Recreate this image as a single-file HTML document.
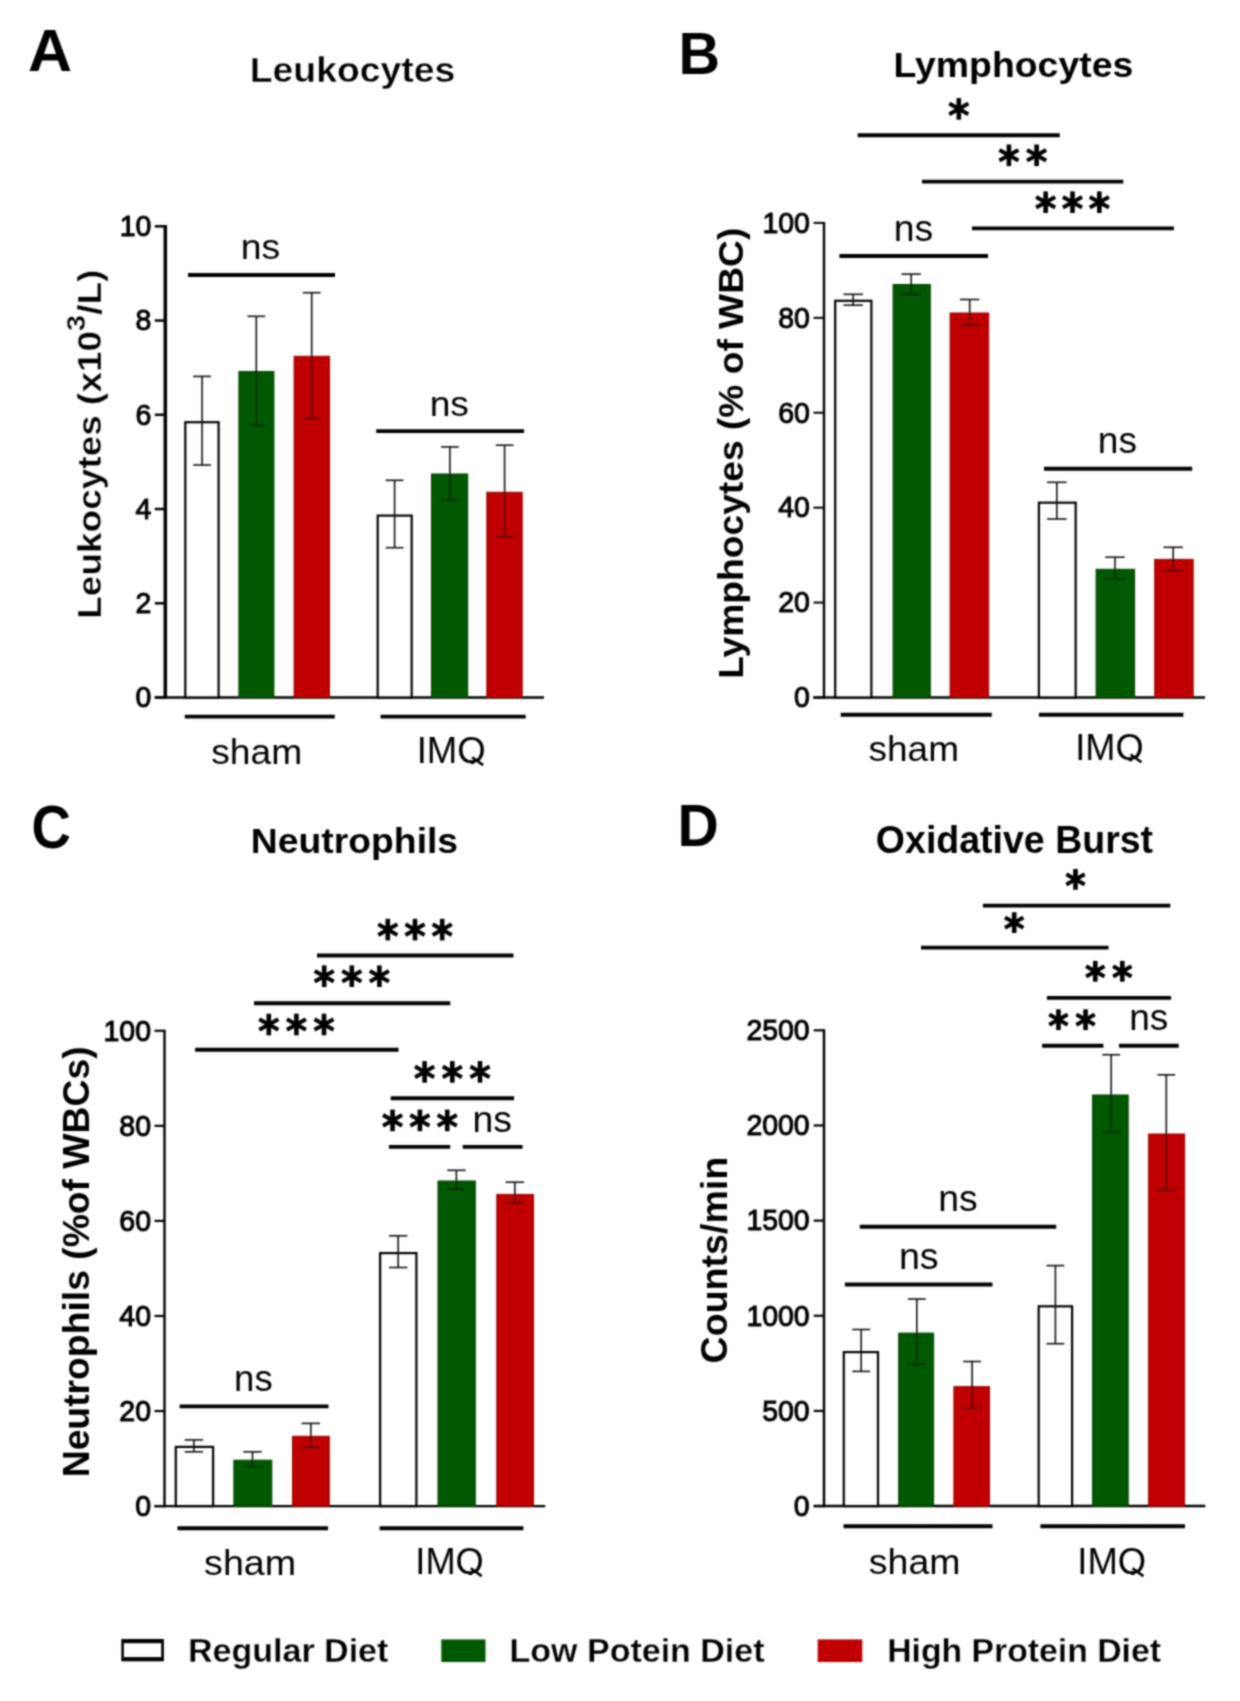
<!DOCTYPE html>
<html><head><meta charset="utf-8"><style>
html,body{margin:0;padding:0;background:#fff;}
svg{display:block;font-family:"Liberation Sans", sans-serif;}
</style></head><body>
<svg width="1240" height="1701" viewBox="0 0 1240 1701">
<defs><filter id="bl" color-interpolation-filters="sRGB" filterUnits="userSpaceOnUse" x="0" y="0" width="1240" height="1701"><feConvolveMatrix order="5" kernelMatrix="0.00048 0.00501 0.01095 0.00501 0.00048 0.00501 0.05222 0.11405 0.05222 0.00501 0.01095 0.11405 0.24912 0.11405 0.01095 0.00501 0.05222 0.11405 0.05222 0.00501 0.00048 0.00501 0.01095 0.00501 0.00048" divisor="1" edgeMode="duplicate"/></filter></defs>
<rect width="1240" height="1701" fill="#fff"/>
<g filter="url(#bl)">
<rect width="1240" height="1701" fill="#fff"/>
<g transform="matrix(1.0526 0 0 1.0075 -2.63 -0.73)"><text x="50.00" y="70.95" font-size="58" font-weight="700" text-anchor="middle">A</text></g>
<g transform="matrix(1.0101 0 0 0.9704 -4.05 -1.25)"><text x="353.00" y="85.60" font-size="37" font-weight="700" text-anchor="middle" stroke="#fff" stroke-width="0.4">Leukocytes</text></g>
<line x1="165.30" y1="225.05" x2="165.30" y2="698.85" stroke="#000" stroke-width="3.5"/>
<line x1="154.80" y1="697.50" x2="165.30" y2="697.50" stroke="#000" stroke-width="2.5"/>
<text transform="translate(151.29999999999998,707.30) scale(0.965,1)" font-size="29.5" text-anchor="end" stroke="#000" stroke-width="1.0">0</text>
<line x1="154.80" y1="603.26" x2="165.30" y2="603.26" stroke="#000" stroke-width="2.5"/>
<text transform="translate(151.29999999999998,613.06) scale(0.965,1)" font-size="29.5" text-anchor="end" stroke="#000" stroke-width="1.0">2</text>
<line x1="154.80" y1="509.02" x2="165.30" y2="509.02" stroke="#000" stroke-width="2.5"/>
<text transform="translate(151.29999999999998,518.82) scale(0.965,1)" font-size="29.5" text-anchor="end" stroke="#000" stroke-width="1.0">4</text>
<line x1="154.80" y1="414.78" x2="165.30" y2="414.78" stroke="#000" stroke-width="2.5"/>
<text transform="translate(151.29999999999998,424.58) scale(0.965,1)" font-size="29.5" text-anchor="end" stroke="#000" stroke-width="1.0">6</text>
<line x1="154.80" y1="320.54" x2="165.30" y2="320.54" stroke="#000" stroke-width="2.5"/>
<text transform="translate(151.29999999999998,330.34) scale(0.965,1)" font-size="29.5" text-anchor="end" stroke="#000" stroke-width="1.0">8</text>
<line x1="154.80" y1="226.30" x2="165.30" y2="226.30" stroke="#000" stroke-width="2.5"/>
<text transform="translate(151.29999999999998,236.10) scale(0.965,1)" font-size="29.5" text-anchor="end" stroke="#000" stroke-width="1.0">10</text>
<line x1="154.80" y1="697.50" x2="544.00" y2="697.50" stroke="#000" stroke-width="2.7"/>
<rect x="185.30" y="422.20" width="33.30" height="275.30" fill="#fff" stroke="#000" stroke-width="2.2"/>
<rect x="238.90" y="371.50" width="35.00" height="326.00" fill="#005800" stroke="#004200" stroke-width="1"/>
<rect x="294.10" y="356.30" width="35.40" height="341.20" fill="#c00000" stroke="#980000" stroke-width="1"/>
<rect x="377.70" y="515.60" width="34.00" height="181.90" fill="#fff" stroke="#000" stroke-width="2.2"/>
<rect x="431.50" y="474.00" width="36.20" height="223.50" fill="#005800" stroke="#004200" stroke-width="1"/>
<rect x="486.80" y="492.30" width="35.40" height="205.20" fill="#c00000" stroke="#980000" stroke-width="1"/>
<line x1="202.10" y1="376.40" x2="202.10" y2="465.00" stroke="#111" stroke-width="1.6"/>
<line x1="193.20" y1="376.40" x2="211.00" y2="376.40" stroke="#111" stroke-width="1.6"/>
<line x1="193.20" y1="465.00" x2="211.00" y2="465.00" stroke="#111" stroke-width="1.6"/>
<line x1="256.30" y1="316.30" x2="256.30" y2="371.00" stroke="#111" stroke-width="1.6"/>
<g opacity="0.5">
<line x1="256.30" y1="371.00" x2="256.30" y2="425.40" stroke="#000" stroke-width="1.6"/>
<line x1="247.40" y1="425.40" x2="265.20" y2="425.40" stroke="#000" stroke-width="1.6"/>
</g>
<line x1="247.40" y1="316.30" x2="265.20" y2="316.30" stroke="#111" stroke-width="1.6"/>
<line x1="311.70" y1="292.70" x2="311.70" y2="355.80" stroke="#111" stroke-width="1.6"/>
<g opacity="0.5">
<line x1="311.70" y1="355.80" x2="311.70" y2="418.30" stroke="#000" stroke-width="1.6"/>
<line x1="302.80" y1="418.30" x2="320.60" y2="418.30" stroke="#000" stroke-width="1.6"/>
</g>
<line x1="302.80" y1="292.70" x2="320.60" y2="292.70" stroke="#111" stroke-width="1.6"/>
<line x1="394.60" y1="480.30" x2="394.60" y2="547.70" stroke="#111" stroke-width="1.6"/>
<line x1="385.70" y1="480.30" x2="403.50" y2="480.30" stroke="#111" stroke-width="1.6"/>
<line x1="385.70" y1="547.70" x2="403.50" y2="547.70" stroke="#111" stroke-width="1.6"/>
<line x1="449.90" y1="446.90" x2="449.90" y2="473.50" stroke="#111" stroke-width="1.6"/>
<g opacity="0.5">
<line x1="449.90" y1="473.50" x2="449.90" y2="500.20" stroke="#000" stroke-width="1.6"/>
<line x1="441.00" y1="500.20" x2="458.80" y2="500.20" stroke="#000" stroke-width="1.6"/>
</g>
<line x1="441.00" y1="446.90" x2="458.80" y2="446.90" stroke="#111" stroke-width="1.6"/>
<line x1="504.60" y1="445.20" x2="504.60" y2="491.80" stroke="#111" stroke-width="1.6"/>
<g opacity="0.5">
<line x1="504.60" y1="491.80" x2="504.60" y2="536.60" stroke="#000" stroke-width="1.6"/>
<line x1="495.70" y1="536.60" x2="513.50" y2="536.60" stroke="#000" stroke-width="1.6"/>
</g>
<line x1="495.70" y1="445.20" x2="513.50" y2="445.20" stroke="#111" stroke-width="1.6"/>
<line x1="188.00" y1="275.00" x2="335.00" y2="275.00" stroke="#000" stroke-width="3.9"/>
<g transform="matrix(1.0382 0 0 0.9900 -10.23 -0.57)"><text x="260.75" y="262.50" font-size="36" font-weight="400" text-anchor="middle">ns</text></g>
<line x1="376.20" y1="431.10" x2="524.10" y2="431.10" stroke="#000" stroke-width="3.9"/>
<g transform="matrix(1.0324 0 0 0.9800 -15.44 5.86)"><text x="450.15" y="418.30" font-size="36" font-weight="400" text-anchor="middle">ns</text></g>
<line x1="184.80" y1="716.60" x2="334.80" y2="716.60" stroke="#000" stroke-width="3.9"/>
<line x1="380.60" y1="716.60" x2="525.70" y2="716.60" stroke="#000" stroke-width="3.9"/>
<g transform="matrix(1.0345 0 0 0.9704 -8.49 23.21)"><text x="256.35" y="763.10" font-size="36" font-weight="400" text-anchor="middle">sham</text></g>
<clipPath id="cl5" clipPathUnits="userSpaceOnUse"><rect x="410.6" y="722" width="83.09999999999997" height="42.00"/></clipPath><g clip-path="url(#cl5)"><g transform="matrix(1.0177 0 0 1.0038 -8.89 -2.83)"><text x="452.15" y="762.65" font-size="36" font-weight="400" text-anchor="middle">IMQ</text></g></g>
<line x1="472.20" y1="757.30" x2="483.10" y2="765.10" stroke="#000" stroke-width="2.6"/>
<g transform="matrix(0.9185 0 0 1.0278 8.95 -12.49)"><text transform="translate(99.85,444.35) rotate(-90)" font-size="36" font-weight="700" text-anchor="middle" stroke="#fff" stroke-width="0.4">Leukocytes (x10<tspan font-size="28" dy="-17">3</tspan><tspan dy="17">/L)</tspan></text></g>
<g transform="matrix(0.9914 0 0 1.0200 5.45 -1.06)"><text x="699.95" y="73.30" font-size="58" font-weight="700" text-anchor="middle">B</text></g>
<g transform="matrix(1.0116 0 0 0.9667 -12.31 -1.00)"><text x="1013.95" y="81.20" font-size="37" font-weight="700" text-anchor="middle">Lymphocytes</text></g>
<line x1="824.00" y1="221.90" x2="824.00" y2="698.70" stroke="#000" stroke-width="2.4"/>
<line x1="813.50" y1="697.50" x2="824.00" y2="697.50" stroke="#000" stroke-width="2"/>
<text transform="translate(809.9000000000001,707.30) scale(0.965,1)" font-size="29.5" text-anchor="end" stroke="#000" stroke-width="1.0">0</text>
<line x1="813.50" y1="602.58" x2="824.00" y2="602.58" stroke="#000" stroke-width="2"/>
<text transform="translate(809.9000000000001,612.38) scale(0.965,1)" font-size="29.5" text-anchor="end" stroke="#000" stroke-width="1.0">20</text>
<line x1="813.50" y1="507.66" x2="824.00" y2="507.66" stroke="#000" stroke-width="2"/>
<text transform="translate(809.9000000000001,517.46) scale(0.965,1)" font-size="29.5" text-anchor="end" stroke="#000" stroke-width="1.0">40</text>
<line x1="813.50" y1="412.74" x2="824.00" y2="412.74" stroke="#000" stroke-width="2"/>
<text transform="translate(809.9000000000001,422.54) scale(0.965,1)" font-size="29.5" text-anchor="end" stroke="#000" stroke-width="1.0">60</text>
<line x1="813.50" y1="317.82" x2="824.00" y2="317.82" stroke="#000" stroke-width="2"/>
<text transform="translate(809.9000000000001,327.62) scale(0.965,1)" font-size="29.5" text-anchor="end" stroke="#000" stroke-width="1.0">80</text>
<line x1="813.50" y1="222.90" x2="824.00" y2="222.90" stroke="#000" stroke-width="2"/>
<text transform="translate(809.9000000000001,232.70) scale(0.965,1)" font-size="29.5" text-anchor="end" stroke="#000" stroke-width="1.0">100</text>
<line x1="813.50" y1="697.50" x2="1205.00" y2="697.50" stroke="#000" stroke-width="2.4"/>
<rect x="835.20" y="300.80" width="36.20" height="396.70" fill="#fff" stroke="#000" stroke-width="2.2"/>
<rect x="893.10" y="284.50" width="37.20" height="413.00" fill="#005800" stroke="#004200" stroke-width="1"/>
<rect x="950.10" y="313.00" width="38.60" height="384.50" fill="#c00000" stroke="#980000" stroke-width="1"/>
<rect x="1038.90" y="502.70" width="36.80" height="194.80" fill="#fff" stroke="#000" stroke-width="2.2"/>
<rect x="1096.10" y="569.30" width="38.50" height="128.20" fill="#005800" stroke="#004200" stroke-width="1"/>
<rect x="1154.70" y="559.40" width="38.50" height="138.10" fill="#c00000" stroke="#980000" stroke-width="1"/>
<line x1="853.20" y1="294.30" x2="853.20" y2="305.20" stroke="#111" stroke-width="1.6"/>
<line x1="843.45" y1="294.30" x2="862.95" y2="294.30" stroke="#111" stroke-width="1.6"/>
<line x1="843.45" y1="305.20" x2="862.95" y2="305.20" stroke="#111" stroke-width="1.6"/>
<line x1="911.20" y1="274.10" x2="911.20" y2="284.00" stroke="#111" stroke-width="1.6"/>
<g opacity="0.5">
<line x1="911.20" y1="284.00" x2="911.20" y2="294.30" stroke="#000" stroke-width="1.6"/>
<line x1="901.45" y1="294.30" x2="920.95" y2="294.30" stroke="#000" stroke-width="1.6"/>
</g>
<line x1="901.45" y1="274.10" x2="920.95" y2="274.10" stroke="#111" stroke-width="1.6"/>
<line x1="969.70" y1="299.50" x2="969.70" y2="312.50" stroke="#111" stroke-width="1.6"/>
<g opacity="0.5">
<line x1="969.70" y1="312.50" x2="969.70" y2="324.90" stroke="#000" stroke-width="1.6"/>
<line x1="959.95" y1="324.90" x2="979.45" y2="324.90" stroke="#000" stroke-width="1.6"/>
</g>
<line x1="959.95" y1="299.50" x2="979.45" y2="299.50" stroke="#111" stroke-width="1.6"/>
<line x1="1056.80" y1="482.30" x2="1056.80" y2="519.00" stroke="#111" stroke-width="1.6"/>
<line x1="1047.05" y1="482.30" x2="1066.55" y2="482.30" stroke="#111" stroke-width="1.6"/>
<line x1="1047.05" y1="519.00" x2="1066.55" y2="519.00" stroke="#111" stroke-width="1.6"/>
<line x1="1115.00" y1="557.20" x2="1115.00" y2="568.80" stroke="#111" stroke-width="1.6"/>
<g opacity="0.5">
<line x1="1115.00" y1="568.80" x2="1115.00" y2="579.10" stroke="#000" stroke-width="1.6"/>
<line x1="1105.25" y1="579.10" x2="1124.75" y2="579.10" stroke="#000" stroke-width="1.6"/>
</g>
<line x1="1105.25" y1="557.20" x2="1124.75" y2="557.20" stroke="#111" stroke-width="1.6"/>
<line x1="1173.20" y1="547.30" x2="1173.20" y2="558.90" stroke="#111" stroke-width="1.6"/>
<g opacity="0.5">
<line x1="1173.20" y1="558.90" x2="1173.20" y2="570.60" stroke="#000" stroke-width="1.6"/>
<line x1="1163.45" y1="570.60" x2="1182.95" y2="570.60" stroke="#000" stroke-width="1.6"/>
</g>
<line x1="1163.45" y1="547.30" x2="1182.95" y2="547.30" stroke="#111" stroke-width="1.6"/>
<line x1="857.70" y1="135.20" x2="1059.80" y2="135.20" stroke="#000" stroke-width="3.9"/>
<path d="M958.80 98.10L958.80 119.70" stroke="#000" stroke-width="4.6" fill="none"/>
<path d="M949.27 103.62L968.33 114.18M949.27 114.18L968.33 103.62" stroke="#000" stroke-width="3.9999999999999996" fill="none"/>
<circle cx="958.80" cy="108.90" r="3.30" fill="#000"/>
<line x1="922.00" y1="181.60" x2="1123.30" y2="181.60" stroke="#000" stroke-width="3.9"/>
<path d="M1008.90 144.50L1008.90 166.10" stroke="#000" stroke-width="4.6" fill="none"/>
<path d="M999.37 150.02L1018.43 160.58M999.37 160.58L1018.43 150.02" stroke="#000" stroke-width="3.9999999999999996" fill="none"/>
<circle cx="1008.90" cy="155.30" r="3.30" fill="#000"/>
<path d="M1036.60 144.50L1036.60 166.10" stroke="#000" stroke-width="4.6" fill="none"/>
<path d="M1027.07 150.02L1046.13 160.58M1027.07 160.58L1046.13 150.02" stroke="#000" stroke-width="3.9999999999999996" fill="none"/>
<circle cx="1036.60" cy="155.30" r="3.30" fill="#000"/>
<line x1="972.00" y1="228.40" x2="1173.90" y2="228.40" stroke="#000" stroke-width="3.9"/>
<path d="M1045.65 191.40L1045.65 213.00" stroke="#000" stroke-width="4.6" fill="none"/>
<path d="M1036.12 196.92L1055.18 207.48M1036.12 207.48L1055.18 196.92" stroke="#000" stroke-width="3.9999999999999996" fill="none"/>
<circle cx="1045.65" cy="202.20" r="3.30" fill="#000"/>
<path d="M1072.50 191.40L1072.50 213.00" stroke="#000" stroke-width="4.6" fill="none"/>
<path d="M1062.97 196.92L1082.03 207.48M1062.97 207.48L1082.03 196.92" stroke="#000" stroke-width="3.9999999999999996" fill="none"/>
<circle cx="1072.50" cy="202.20" r="3.30" fill="#000"/>
<path d="M1099.35 191.40L1099.35 213.00" stroke="#000" stroke-width="4.6" fill="none"/>
<path d="M1089.82 196.92L1108.88 207.48M1089.82 207.48L1108.88 196.92" stroke="#000" stroke-width="3.9999999999999996" fill="none"/>
<circle cx="1099.35" cy="202.20" r="3.30" fill="#000"/>
<line x1="839.40" y1="256.00" x2="988.00" y2="256.00" stroke="#000" stroke-width="3.9"/>
<g transform="matrix(1.0382 0 0 1.0500 -35.20 -14.80)"><text x="913.75" y="243.50" font-size="36" font-weight="400" text-anchor="middle">ns</text></g>
<line x1="1044.00" y1="468.70" x2="1192.20" y2="468.70" stroke="#000" stroke-width="3.9"/>
<g transform="matrix(1.0294 0 0 1.0400 -33.18 -20.64)"><text x="1117.70" y="455.80" font-size="36" font-weight="400" text-anchor="middle">ns</text></g>
<line x1="840.70" y1="714.80" x2="991.80" y2="714.80" stroke="#000" stroke-width="3.9"/>
<line x1="1038.90" y1="714.80" x2="1183.40" y2="714.80" stroke="#000" stroke-width="3.9"/>
<g transform="matrix(1.0274 0 0 0.9926 -24.65 6.63)"><text x="913.35" y="760.20" font-size="36" font-weight="400" text-anchor="middle">sham</text></g>
<clipPath id="cl12" clipPathUnits="userSpaceOnUse"><rect x="1068.8" y="719.2" width="83.29999999999995" height="42.00"/></clipPath><g clip-path="url(#cl12)"><g transform="matrix(1.0048 0 0 1.0038 -6.34 -2.62)"><text x="1110.45" y="759.85" font-size="36" font-weight="400" text-anchor="middle">IMQ</text></g></g>
<line x1="1130.60" y1="754.50" x2="1141.50" y2="762.30" stroke="#000" stroke-width="2.6"/>
<g transform="matrix(0.9259 0 0 1.0052 50.91 -1.99)"><text transform="translate(747.95,452.85) rotate(-90)" font-size="37" font-weight="700" text-anchor="middle">Lymphocytes (% of WBC)</text></g>
<g transform="matrix(0.9405 0 0 1.0400 2.86 -32.98)"><text x="51.30" y="847.40" font-size="58" font-weight="700" text-anchor="middle">C</text></g>
<g transform="matrix(1.0084 0 0 0.9704 -3.24 21.86)"><text x="354.75" y="856.20" font-size="37" font-weight="700" text-anchor="middle">Neutrophils</text></g>
<line x1="164.50" y1="1029.70" x2="164.50" y2="1507.30" stroke="#000" stroke-width="2.4"/>
<line x1="154.50" y1="1506.10" x2="164.50" y2="1506.10" stroke="#000" stroke-width="2.2"/>
<text transform="translate(151.0,1515.90) scale(0.965,1)" font-size="29.5" text-anchor="end" stroke="#000" stroke-width="1.05">0</text>
<line x1="154.50" y1="1411.04" x2="164.50" y2="1411.04" stroke="#000" stroke-width="2.2"/>
<text transform="translate(151.0,1420.84) scale(0.965,1)" font-size="29.5" text-anchor="end" stroke="#000" stroke-width="1.05">20</text>
<line x1="154.50" y1="1315.98" x2="164.50" y2="1315.98" stroke="#000" stroke-width="2.2"/>
<text transform="translate(151.0,1325.78) scale(0.965,1)" font-size="29.5" text-anchor="end" stroke="#000" stroke-width="1.05">40</text>
<line x1="154.50" y1="1220.92" x2="164.50" y2="1220.92" stroke="#000" stroke-width="2.2"/>
<text transform="translate(151.0,1230.72) scale(0.965,1)" font-size="29.5" text-anchor="end" stroke="#000" stroke-width="1.05">60</text>
<line x1="154.50" y1="1125.86" x2="164.50" y2="1125.86" stroke="#000" stroke-width="2.2"/>
<text transform="translate(151.0,1135.66) scale(0.965,1)" font-size="29.5" text-anchor="end" stroke="#000" stroke-width="1.05">80</text>
<line x1="154.50" y1="1030.80" x2="164.50" y2="1030.80" stroke="#000" stroke-width="2.2"/>
<text transform="translate(151.0,1040.60) scale(0.965,1)" font-size="29.5" text-anchor="end" stroke="#000" stroke-width="1.05">100</text>
<line x1="154.50" y1="1506.10" x2="545.20" y2="1506.10" stroke="#000" stroke-width="2.4"/>
<rect x="175.80" y="1446.90" width="37.30" height="59.20" fill="#fff" stroke="#000" stroke-width="2.2"/>
<rect x="233.90" y="1460.20" width="37.90" height="45.90" fill="#005800" stroke="#004200" stroke-width="1"/>
<rect x="292.50" y="1436.30" width="36.80" height="69.80" fill="#c00000" stroke="#980000" stroke-width="1"/>
<rect x="380.10" y="1253.10" width="36.30" height="253.00" fill="#fff" stroke="#000" stroke-width="2.2"/>
<rect x="438.00" y="1181.00" width="37.30" height="325.10" fill="#005800" stroke="#004200" stroke-width="1"/>
<rect x="496.80" y="1194.40" width="36.70" height="311.70" fill="#c00000" stroke="#980000" stroke-width="1"/>
<line x1="193.90" y1="1439.90" x2="193.90" y2="1451.80" stroke="#111" stroke-width="1.6"/>
<line x1="184.70" y1="1439.90" x2="203.10" y2="1439.90" stroke="#111" stroke-width="1.6"/>
<line x1="184.70" y1="1451.80" x2="203.10" y2="1451.80" stroke="#111" stroke-width="1.6"/>
<line x1="252.50" y1="1451.80" x2="252.50" y2="1459.70" stroke="#111" stroke-width="1.6"/>
<g opacity="0.5">
<line x1="252.50" y1="1459.70" x2="252.50" y2="1466.70" stroke="#000" stroke-width="1.6"/>
<line x1="243.30" y1="1466.70" x2="261.70" y2="1466.70" stroke="#000" stroke-width="1.6"/>
</g>
<line x1="243.30" y1="1451.80" x2="261.70" y2="1451.80" stroke="#111" stroke-width="1.6"/>
<line x1="310.80" y1="1423.40" x2="310.80" y2="1435.80" stroke="#111" stroke-width="1.6"/>
<g opacity="0.5">
<line x1="310.80" y1="1435.80" x2="310.80" y2="1447.40" stroke="#000" stroke-width="1.6"/>
<line x1="301.60" y1="1447.40" x2="320.00" y2="1447.40" stroke="#000" stroke-width="1.6"/>
</g>
<line x1="301.60" y1="1423.40" x2="320.00" y2="1423.40" stroke="#111" stroke-width="1.6"/>
<line x1="398.20" y1="1235.80" x2="398.20" y2="1267.50" stroke="#111" stroke-width="1.6"/>
<line x1="389.00" y1="1235.80" x2="407.40" y2="1235.80" stroke="#111" stroke-width="1.6"/>
<line x1="389.00" y1="1267.50" x2="407.40" y2="1267.50" stroke="#111" stroke-width="1.6"/>
<line x1="456.40" y1="1170.30" x2="456.40" y2="1180.50" stroke="#111" stroke-width="1.6"/>
<g opacity="0.5">
<line x1="456.40" y1="1180.50" x2="456.40" y2="1189.20" stroke="#000" stroke-width="1.6"/>
<line x1="447.20" y1="1189.20" x2="465.60" y2="1189.20" stroke="#000" stroke-width="1.6"/>
</g>
<line x1="447.20" y1="1170.30" x2="465.60" y2="1170.30" stroke="#111" stroke-width="1.6"/>
<line x1="514.80" y1="1182.20" x2="514.80" y2="1193.90" stroke="#111" stroke-width="1.6"/>
<g opacity="0.5">
<line x1="514.80" y1="1193.90" x2="514.80" y2="1203.00" stroke="#000" stroke-width="1.6"/>
<line x1="505.60" y1="1203.00" x2="524.00" y2="1203.00" stroke="#000" stroke-width="1.6"/>
</g>
<line x1="505.60" y1="1182.20" x2="524.00" y2="1182.20" stroke="#111" stroke-width="1.6"/>
<line x1="317.00" y1="955.50" x2="513.50" y2="955.50" stroke="#000" stroke-width="3.9"/>
<path d="M387.80 918.80L387.80 940.40" stroke="#000" stroke-width="4.6" fill="none"/>
<path d="M378.27 924.32L397.33 934.88M378.27 934.88L397.33 924.32" stroke="#000" stroke-width="3.9999999999999996" fill="none"/>
<circle cx="387.80" cy="929.60" r="3.30" fill="#000"/>
<path d="M415.00 918.80L415.00 940.40" stroke="#000" stroke-width="4.6" fill="none"/>
<path d="M405.47 924.32L424.53 934.88M405.47 934.88L424.53 924.32" stroke="#000" stroke-width="3.9999999999999996" fill="none"/>
<circle cx="415.00" cy="929.60" r="3.30" fill="#000"/>
<path d="M442.20 918.80L442.20 940.40" stroke="#000" stroke-width="4.6" fill="none"/>
<path d="M432.67 924.32L451.73 934.88M432.67 934.88L451.73 924.32" stroke="#000" stroke-width="3.9999999999999996" fill="none"/>
<circle cx="442.20" cy="929.60" r="3.30" fill="#000"/>
<line x1="254.00" y1="1003.20" x2="450.30" y2="1003.20" stroke="#000" stroke-width="3.9"/>
<path d="M324.20 965.40L324.20 987.00" stroke="#000" stroke-width="4.6" fill="none"/>
<path d="M314.67 970.92L333.73 981.48M314.67 981.48L333.73 970.92" stroke="#000" stroke-width="3.9999999999999996" fill="none"/>
<circle cx="324.20" cy="976.20" r="3.30" fill="#000"/>
<path d="M351.80 965.40L351.80 987.00" stroke="#000" stroke-width="4.6" fill="none"/>
<path d="M342.27 970.92L361.33 981.48M342.27 981.48L361.33 970.92" stroke="#000" stroke-width="3.9999999999999996" fill="none"/>
<circle cx="351.80" cy="976.20" r="3.30" fill="#000"/>
<path d="M379.40 965.40L379.40 987.00" stroke="#000" stroke-width="4.6" fill="none"/>
<path d="M369.87 970.92L388.93 981.48M369.87 981.48L388.93 970.92" stroke="#000" stroke-width="3.9999999999999996" fill="none"/>
<circle cx="379.40" cy="976.20" r="3.30" fill="#000"/>
<line x1="195.10" y1="1049.80" x2="398.50" y2="1049.80" stroke="#000" stroke-width="3.9"/>
<path d="M268.80 1013.70L268.80 1035.30" stroke="#000" stroke-width="4.6" fill="none"/>
<path d="M259.27 1019.22L278.33 1029.78M259.27 1029.78L278.33 1019.22" stroke="#000" stroke-width="3.9999999999999996" fill="none"/>
<circle cx="268.80" cy="1024.50" r="3.30" fill="#000"/>
<path d="M296.40 1013.70L296.40 1035.30" stroke="#000" stroke-width="4.6" fill="none"/>
<path d="M286.87 1019.22L305.93 1029.78M286.87 1029.78L305.93 1019.22" stroke="#000" stroke-width="3.9999999999999996" fill="none"/>
<circle cx="296.40" cy="1024.50" r="3.30" fill="#000"/>
<path d="M324.00 1013.70L324.00 1035.30" stroke="#000" stroke-width="4.6" fill="none"/>
<path d="M314.47 1019.22L333.53 1029.78M314.47 1029.78L333.53 1019.22" stroke="#000" stroke-width="3.9999999999999996" fill="none"/>
<circle cx="324.00" cy="1024.50" r="3.30" fill="#000"/>
<line x1="390.70" y1="1098.20" x2="514.10" y2="1098.20" stroke="#000" stroke-width="3.9"/>
<path d="M424.60 1061.10L424.60 1082.70" stroke="#000" stroke-width="4.6" fill="none"/>
<path d="M415.07 1066.62L434.13 1077.18M415.07 1077.18L434.13 1066.62" stroke="#000" stroke-width="3.9999999999999996" fill="none"/>
<circle cx="424.60" cy="1071.90" r="3.30" fill="#000"/>
<path d="M452.30 1061.10L452.30 1082.70" stroke="#000" stroke-width="4.6" fill="none"/>
<path d="M442.77 1066.62L461.83 1077.18M442.77 1077.18L461.83 1066.62" stroke="#000" stroke-width="3.9999999999999996" fill="none"/>
<circle cx="452.30" cy="1071.90" r="3.30" fill="#000"/>
<path d="M480.00 1061.10L480.00 1082.70" stroke="#000" stroke-width="4.6" fill="none"/>
<path d="M470.47 1066.62L489.53 1077.18M470.47 1077.18L489.53 1066.62" stroke="#000" stroke-width="3.9999999999999996" fill="none"/>
<circle cx="480.00" cy="1071.90" r="3.30" fill="#000"/>
<line x1="388.90" y1="1146.90" x2="450.20" y2="1146.90" stroke="#000" stroke-width="3.9"/>
<path d="M392.55 1109.60L392.55 1131.20" stroke="#000" stroke-width="4.6" fill="none"/>
<path d="M383.02 1115.12L402.08 1125.68M383.02 1125.68L402.08 1115.12" stroke="#000" stroke-width="3.9999999999999996" fill="none"/>
<circle cx="392.55" cy="1120.40" r="3.30" fill="#000"/>
<path d="M419.90 1109.60L419.90 1131.20" stroke="#000" stroke-width="4.6" fill="none"/>
<path d="M410.37 1115.12L429.43 1125.68M410.37 1125.68L429.43 1115.12" stroke="#000" stroke-width="3.9999999999999996" fill="none"/>
<circle cx="419.90" cy="1120.40" r="3.30" fill="#000"/>
<path d="M447.25 1109.60L447.25 1131.20" stroke="#000" stroke-width="4.6" fill="none"/>
<path d="M437.72 1115.12L456.78 1125.68M437.72 1125.68L456.78 1115.12" stroke="#000" stroke-width="3.9999999999999996" fill="none"/>
<circle cx="447.25" cy="1120.40" r="3.30" fill="#000"/>
<line x1="462.70" y1="1146.90" x2="522.60" y2="1146.90" stroke="#000" stroke-width="3.9"/>
<g transform="matrix(1.0382 0 0 1.0300 -19.74 -36.32)"><text x="493.15" y="1134.00" font-size="36" font-weight="400" text-anchor="middle">ns</text></g>
<line x1="179.60" y1="1406.40" x2="328.50" y2="1406.40" stroke="#000" stroke-width="3.9"/>
<g transform="matrix(1.0143 0 0 1.0200 -4.19 -30.26)"><text x="253.95" y="1393.00" font-size="36" font-weight="400" text-anchor="middle">ns</text></g>
<line x1="177.50" y1="1528.30" x2="328.00" y2="1528.30" stroke="#000" stroke-width="3.9"/>
<line x1="379.60" y1="1528.30" x2="523.40" y2="1528.30" stroke="#000" stroke-width="3.9"/>
<g transform="matrix(1.0464 0 0 0.9778 -11.01 35.78)"><text x="249.55" y="1574.20" font-size="36" font-weight="400" text-anchor="middle">sham</text></g>
<clipPath id="cl19" clipPathUnits="userSpaceOnUse"><rect x="408.8" y="1533" width="83.5" height="42.00"/></clipPath><g clip-path="url(#cl19)"><g transform="matrix(1.0079 0 0 1.0038 -4.53 -5.95)"><text x="450.55" y="1573.65" font-size="36" font-weight="400" text-anchor="middle">IMQ</text></g></g>
<line x1="470.80" y1="1568.30" x2="481.70" y2="1576.10" stroke="#000" stroke-width="2.6"/>
<g transform="matrix(0.9778 0 0 1.0080 -1.26 -9.43)"><text transform="translate(92.25,1261.20) rotate(-90)" font-size="37" font-weight="700" text-anchor="middle">Neutrophils (%of WBCs)</text></g>
<g transform="matrix(0.9857 0 0 1.0300 9.34 -24.75)"><text x="698.85" y="845.30" font-size="58" font-weight="700" text-anchor="middle">D</text></g>
<g transform="matrix(1.0140 0 0 1.0296 -14.74 -24.57)"><text x="1015.00" y="852.75" font-size="37" font-weight="700" text-anchor="middle">Oxidative Burst</text></g>
<line x1="824.00" y1="1029.20" x2="824.00" y2="1507.35" stroke="#000" stroke-width="2.5"/>
<line x1="813.70" y1="1506.10" x2="824.00" y2="1506.10" stroke="#000" stroke-width="2.2"/>
<text transform="translate(809.7,1515.90) scale(0.965,1)" font-size="29.5" text-anchor="end" stroke="#000" stroke-width="1.0">0</text>
<line x1="813.70" y1="1410.94" x2="824.00" y2="1410.94" stroke="#000" stroke-width="2.2"/>
<text transform="translate(809.7,1420.74) scale(0.965,1)" font-size="29.5" text-anchor="end" stroke="#000" stroke-width="1.0">500</text>
<line x1="813.70" y1="1315.78" x2="824.00" y2="1315.78" stroke="#000" stroke-width="2.2"/>
<text transform="translate(809.7,1325.58) scale(0.965,1)" font-size="29.5" text-anchor="end" stroke="#000" stroke-width="1.0">1000</text>
<line x1="813.70" y1="1220.62" x2="824.00" y2="1220.62" stroke="#000" stroke-width="2.2"/>
<text transform="translate(809.7,1230.42) scale(0.965,1)" font-size="29.5" text-anchor="end" stroke="#000" stroke-width="1.0">1500</text>
<line x1="813.70" y1="1125.46" x2="824.00" y2="1125.46" stroke="#000" stroke-width="2.2"/>
<text transform="translate(809.7,1135.26) scale(0.965,1)" font-size="29.5" text-anchor="end" stroke="#000" stroke-width="1.0">2000</text>
<line x1="813.70" y1="1030.30" x2="824.00" y2="1030.30" stroke="#000" stroke-width="2.2"/>
<text transform="translate(809.7,1040.10) scale(0.965,1)" font-size="29.5" text-anchor="end" stroke="#000" stroke-width="1.0">2500</text>
<line x1="813.70" y1="1506.10" x2="1205.30" y2="1506.10" stroke="#000" stroke-width="2.5"/>
<rect x="843.80" y="1352.10" width="34.20" height="154.00" fill="#fff" stroke="#000" stroke-width="2.2"/>
<rect x="898.70" y="1333.10" width="34.90" height="173.00" fill="#005800" stroke="#004200" stroke-width="1"/>
<rect x="953.90" y="1386.60" width="35.60" height="119.50" fill="#c00000" stroke="#980000" stroke-width="1"/>
<rect x="1038.70" y="1306.30" width="33.40" height="199.80" fill="#fff" stroke="#000" stroke-width="2.2"/>
<rect x="1092.60" y="1095.00" width="35.60" height="411.10" fill="#005800" stroke="#004200" stroke-width="1"/>
<rect x="1148.60" y="1134.00" width="36.00" height="372.10" fill="#c00000" stroke="#980000" stroke-width="1"/>
<line x1="861.20" y1="1329.50" x2="861.20" y2="1371.40" stroke="#111" stroke-width="1.6"/>
<line x1="852.30" y1="1329.50" x2="870.10" y2="1329.50" stroke="#111" stroke-width="1.6"/>
<line x1="852.30" y1="1371.40" x2="870.10" y2="1371.40" stroke="#111" stroke-width="1.6"/>
<line x1="916.80" y1="1299.00" x2="916.80" y2="1332.60" stroke="#111" stroke-width="1.6"/>
<g opacity="0.5">
<line x1="916.80" y1="1332.60" x2="916.80" y2="1364.50" stroke="#000" stroke-width="1.6"/>
<line x1="907.90" y1="1364.50" x2="925.70" y2="1364.50" stroke="#000" stroke-width="1.6"/>
</g>
<line x1="907.90" y1="1299.00" x2="925.70" y2="1299.00" stroke="#111" stroke-width="1.6"/>
<line x1="972.10" y1="1361.50" x2="972.10" y2="1386.10" stroke="#111" stroke-width="1.6"/>
<g opacity="0.5">
<line x1="972.10" y1="1386.10" x2="972.10" y2="1407.80" stroke="#000" stroke-width="1.6"/>
<line x1="963.20" y1="1407.80" x2="981.00" y2="1407.80" stroke="#000" stroke-width="1.6"/>
</g>
<line x1="963.20" y1="1361.50" x2="981.00" y2="1361.50" stroke="#111" stroke-width="1.6"/>
<line x1="1055.40" y1="1265.60" x2="1055.40" y2="1343.70" stroke="#111" stroke-width="1.6"/>
<line x1="1046.50" y1="1265.60" x2="1064.30" y2="1265.60" stroke="#111" stroke-width="1.6"/>
<line x1="1046.50" y1="1343.70" x2="1064.30" y2="1343.70" stroke="#111" stroke-width="1.6"/>
<line x1="1111.20" y1="1054.70" x2="1111.20" y2="1094.50" stroke="#111" stroke-width="1.6"/>
<g opacity="0.5">
<line x1="1111.20" y1="1094.50" x2="1111.20" y2="1132.10" stroke="#000" stroke-width="1.6"/>
<line x1="1102.30" y1="1132.10" x2="1120.10" y2="1132.10" stroke="#000" stroke-width="1.6"/>
</g>
<line x1="1102.30" y1="1054.70" x2="1120.10" y2="1054.70" stroke="#111" stroke-width="1.6"/>
<line x1="1166.30" y1="1074.80" x2="1166.30" y2="1133.50" stroke="#111" stroke-width="1.6"/>
<g opacity="0.5">
<line x1="1166.30" y1="1133.50" x2="1166.30" y2="1190.40" stroke="#000" stroke-width="1.6"/>
<line x1="1157.40" y1="1190.40" x2="1175.20" y2="1190.40" stroke="#000" stroke-width="1.6"/>
</g>
<line x1="1157.40" y1="1074.80" x2="1175.20" y2="1074.80" stroke="#111" stroke-width="1.6"/>
<line x1="982.90" y1="905.60" x2="1170.30" y2="905.60" stroke="#000" stroke-width="3.9"/>
<path d="M1075.50 869.00L1075.50 889.80" stroke="#000" stroke-width="4.6" fill="none"/>
<path d="M1066.32 874.31L1084.68 884.49M1066.32 884.49L1084.68 874.31" stroke="#000" stroke-width="3.9999999999999996" fill="none"/>
<circle cx="1075.50" cy="879.40" r="3.18" fill="#000"/>
<line x1="921.00" y1="947.60" x2="1108.50" y2="947.60" stroke="#000" stroke-width="3.9"/>
<path d="M1014.20 912.20L1014.20 933.00" stroke="#000" stroke-width="4.6" fill="none"/>
<path d="M1005.02 917.51L1023.38 927.69M1005.02 927.69L1023.38 917.51" stroke="#000" stroke-width="3.9999999999999996" fill="none"/>
<circle cx="1014.20" cy="922.60" r="3.18" fill="#000"/>
<line x1="1046.90" y1="997.90" x2="1171.10" y2="997.90" stroke="#000" stroke-width="3.9"/>
<path d="M1095.30 960.90L1095.30 981.70" stroke="#000" stroke-width="4.6" fill="none"/>
<path d="M1086.12 966.21L1104.48 976.39M1086.12 976.39L1104.48 966.21" stroke="#000" stroke-width="3.9999999999999996" fill="none"/>
<circle cx="1095.30" cy="971.30" r="3.18" fill="#000"/>
<path d="M1122.30 960.90L1122.30 981.70" stroke="#000" stroke-width="4.6" fill="none"/>
<path d="M1113.12 966.21L1131.48 976.39M1113.12 976.39L1131.48 966.21" stroke="#000" stroke-width="3.9999999999999996" fill="none"/>
<circle cx="1122.30" cy="971.30" r="3.18" fill="#000"/>
<line x1="1042.10" y1="1045.80" x2="1103.40" y2="1045.80" stroke="#000" stroke-width="3.9"/>
<path d="M1058.45 1009.30L1058.45 1030.10" stroke="#000" stroke-width="4.6" fill="none"/>
<path d="M1049.27 1014.61L1067.63 1024.79M1049.27 1024.79L1067.63 1014.61" stroke="#000" stroke-width="3.9999999999999996" fill="none"/>
<circle cx="1058.45" cy="1019.70" r="3.18" fill="#000"/>
<path d="M1085.55 1009.30L1085.55 1030.10" stroke="#000" stroke-width="4.6" fill="none"/>
<path d="M1076.37 1014.61L1094.73 1024.79M1076.37 1024.79L1094.73 1014.61" stroke="#000" stroke-width="3.9999999999999996" fill="none"/>
<circle cx="1085.55" cy="1019.70" r="3.18" fill="#000"/>
<line x1="1119.00" y1="1045.80" x2="1178.70" y2="1045.80" stroke="#000" stroke-width="3.9"/>
<g transform="matrix(1.0294 0 0 1.0300 -34.42 -33.39)"><text x="1149.40" y="1032.90" font-size="36" font-weight="400" text-anchor="middle">ns</text></g>
<line x1="844.90" y1="1284.50" x2="992.50" y2="1284.50" stroke="#000" stroke-width="3.9"/>
<g transform="matrix(1.0471 0 0 1.0400 -43.89 -53.28)"><text x="919.40" y="1271.80" font-size="36" font-weight="400" text-anchor="middle">ns</text></g>
<line x1="859.80" y1="1226.80" x2="1056.20" y2="1226.80" stroke="#000" stroke-width="3.9"/>
<g transform="matrix(1.0382 0 0 1.0400 -37.12 -50.72)"><text x="958.55" y="1213.00" font-size="36" font-weight="400" text-anchor="middle">ns</text></g>
<line x1="843.50" y1="1526.30" x2="992.50" y2="1526.30" stroke="#000" stroke-width="3.9"/>
<line x1="1040.40" y1="1526.30" x2="1185.00" y2="1526.30" stroke="#000" stroke-width="3.9"/>
<g transform="matrix(1.0405 0 0 0.9926 -36.70 12.26)"><text x="914.30" y="1573.80" font-size="36" font-weight="400" text-anchor="middle">sham</text></g>
<clipPath id="cl27" clipPathUnits="userSpaceOnUse"><rect x="1070.2" y="1532.3" width="83.79999999999995" height="42.70"/></clipPath><g clip-path="url(#cl27)"><g transform="matrix(1.0127 0 0 1.0308 -14.53 -47.30)"><text x="1112.10" y="1573.30" font-size="36" font-weight="400" text-anchor="middle">IMQ</text></g></g>
<line x1="1132.50" y1="1568.30" x2="1143.40" y2="1576.10" stroke="#000" stroke-width="2.6"/>
<g transform="matrix(0.9963 0 0 1.0161 3.29 -20.99)"><text transform="translate(726.20,1260.80) rotate(-90)" font-size="37" font-weight="700" text-anchor="middle">Counts/min</text></g>
<rect x="121.30" y="1639.00" width="42.60" height="22.30" fill="#000"/>
<rect x="123.90" y="1643.20" width="37.30" height="13.90" fill="#fff"/>
<g transform="matrix(1.0219 0 0 1.0125 -7.24 -23.51)"><text x="289.10" y="1664.70" font-size="33.3" font-weight="700" text-anchor="middle" stroke="#fff" stroke-width="0.3">Regular Diet</text></g>
<rect x="441.30" y="1639.40" width="44.20" height="22.60" fill="#005800"/>
<g transform="matrix(1.0215 0 0 1.0083 -14.72 -13.75)"><text x="638.05" y="1661.65" font-size="33.3" font-weight="700" text-anchor="middle" stroke="#fff" stroke-width="0.3">Low Potein Diet</text></g>
<rect x="817.70" y="1639.40" width="44.60" height="22.60" fill="#c00000"/>
<g transform="matrix(1.0142 0 0 1.0000 -15.30 -2.80)"><text x="1024.80" y="1664.71" font-size="33.3" font-weight="700" text-anchor="middle" stroke="#fff" stroke-width="0.3">High Protein Diet</text></g>
</g>
</svg></body></html>
